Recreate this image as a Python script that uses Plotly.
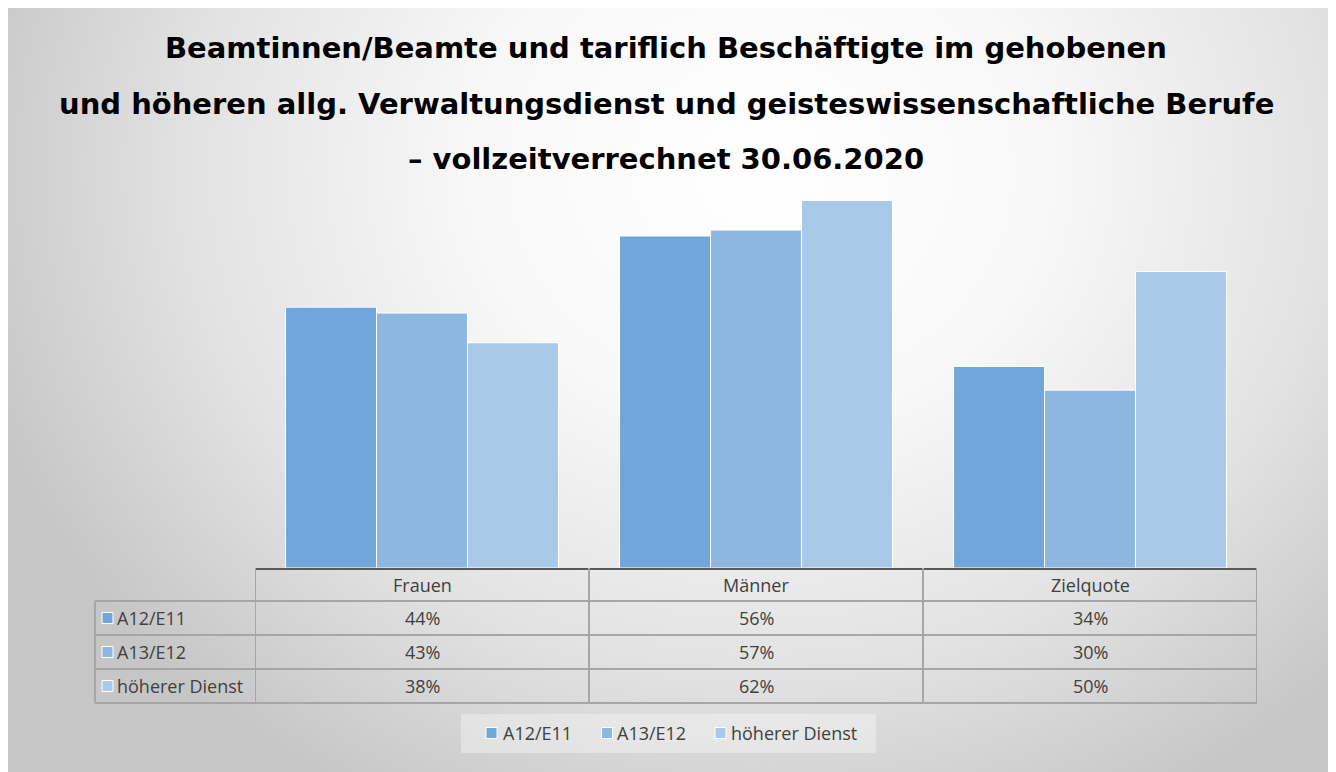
import plotly.graph_objects as go

# the page body has an 8px margin, so the figure is drawn 8px smaller
OFF = 8
W, H = 1336 - OFF, 772 - OFF

categories = ["Frauen", "Männer", "Zielquote"]
series_names = ["A12/E11", "A13/E12", "höherer Dienst"]
a12_e11 = [0.44, 0.56, 0.34]
a13_e12 = [0.43, 0.57, 0.30]
hoeherer_dienst = [0.38, 0.62, 0.50]
series_values = [a12_e11, a13_e12, hoeherer_dienst]
colors = ["#70a6d9", "#8cb7e0", "#a9c9e8"]

title_lines = [
    "Beamtinnen/Beamte und tariflich Beschäftigte im gehobenen",
    "und höheren allg. Verwaltungsdienst und geisteswissenschaftliche Berufe",
    "– vollzeitverrechnet 30.06.2020",
]

# layout in screen pixels (background axis maps 1:1 to screen pixels)
plot_left, plot_right = 255, 1257
plot_top, baseline = 153, 568
row_lines = [568, 601, 635, 669, 703]
label_left = 95
text_color = "#404040"
grid_color = "#a6a6a6"
font_txt = "Open Sans"


def px(s):
    return (s - OFF) / W


def py(s):
    return 1 - (s - OFF) / H


fig = go.Figure()

# radial gradient background
cx, cy, rx, ry = 760, 170, 820, 720
fig.add_trace(go.Scatter(
    x=[cx - rx, cx + rx, cx + rx, cx - rx, cx - rx],
    y=[cy - ry, cy - ry, cy + ry, cy + ry, cy - ry],
    mode="lines", fill="toself", line=dict(width=0),
    fillgradient=dict(type="radial",
                      colorscale=[[0, "#ffffff"], [0.35, "#f8f8f8"],
                                  [0.7, "#e2e2e2"], [1, "#c6c6c6"]]),
    hoverinfo="skip", showlegend=False, xaxis="x", yaxis="y",
))

# bottom legend box
lx0, lx1, ly0, ly1 = 461, 876, 714, 753
fig.add_trace(go.Scatter(
    x=[lx0, lx1, lx1, lx0, lx0], y=[ly0, ly0, ly1, ly1, ly0],
    mode="lines", fill="toself", fillcolor="rgba(255,255,255,0.35)",
    line=dict(width=0), hoverinfo="skip", showlegend=False, xaxis="x", yaxis="y",
))

for name, vals, col in zip(series_names, series_values, colors):
    fig.add_trace(go.Bar(
        x=categories, y=vals, name=name, showlegend=False,
        marker=dict(color=col, line=dict(color="white", width=1)),
        xaxis="x2", yaxis="y2",
    ))

# legend keys in the data table
row_centers = [(row_lines[i] + row_lines[i + 1]) / 2 for i in range(4)]
fig.add_trace(go.Scatter(
    x=[107.5] * 3, y=row_centers[1:], mode="markers",
    marker=dict(symbol="square", size=11, color=colors,
                line=dict(color="white", width=1)),
    hoverinfo="skip", showlegend=False, xaxis="x", yaxis="y",
))

# bottom legend keys
leg_y = 733
leg_sym_x = [491.5, 607, 720.5]
leg_txt_x = [503, 617, 731]
fig.add_trace(go.Scatter(
    x=leg_sym_x, y=[leg_y] * 3, mode="markers",
    marker=dict(symbol="square", size=11, color=colors,
                line=dict(color="white", width=1)),
    hoverinfo="skip", showlegend=False, xaxis="x", yaxis="y",
))

annotations = []
title_base = [57, 113, 168]
for line, b in zip(title_lines, title_base):
    annotations.append(dict(
        text=line, x=666, y=b - 9.5, xref="x", yref="y", showarrow=False,
        xanchor="center", yanchor="middle",
        font=dict(family="DejaVu Sans", size=29, color="#000000", weight=700),
    ))

for cat in categories:
    annotations.append(dict(
        text=cat, x=cat, y=row_centers[0], xref="x2", yref="y",
        showarrow=False, font=dict(family=font_txt, size=18, color=text_color),
    ))

for i, (name, vals) in enumerate(zip(series_names, series_values)):
    yc = row_centers[i + 1]
    annotations.append(dict(
        text=name, x=115, y=yc, xref="x", yref="y", xanchor="left",
        showarrow=False, font=dict(family=font_txt, size=18, color=text_color),
    ))
    for cat, v in zip(categories, vals):
        annotations.append(dict(
            text=f"{v:.0%}", x=cat, y=yc, xref="x2", yref="y",
            showarrow=False, font=dict(family=font_txt, size=18, color=text_color),
        ))

for name, tx in zip(series_names, leg_txt_x):
    annotations.append(dict(
        text=name, x=tx - 2, y=leg_y, xref="x", yref="y", xanchor="left",
        showarrow=False, font=dict(family=font_txt, size=18, color=text_color),
    ))

shapes = []
# table grid
for yl in row_lines[1:]:
    shapes.append(dict(type="line", xref="x", yref="y", x0=label_left, x1=plot_right,
                       y0=yl, y1=yl, line=dict(color=grid_color, width=2)))
shapes.append(dict(type="line", xref="x", yref="y", x0=label_left, x1=label_left,
                   y0=row_lines[1], y1=row_lines[-1], line=dict(color=grid_color, width=2)))
for xb in [-0.5, 0.5, 1.5, 2.5]:
    shapes.append(dict(type="line", xref="x2", yref="y", x0=xb, x1=xb,
                       y0=row_lines[0], y1=row_lines[-1], line=dict(color=grid_color, width=2)))

fig.update_layout(
    width=W, height=H,
    margin=dict(l=0, r=0, t=0, b=0),
    paper_bgcolor="white", plot_bgcolor="rgba(0,0,0,0)",
    barmode="group", bargap=0.183, bargroupgap=0,
    showlegend=False,
    xaxis=dict(domain=[0, 1], range=[OFF, 1336], visible=False, fixedrange=True),
    yaxis=dict(domain=[0, 1], range=[772, OFF], visible=False, fixedrange=True),
    xaxis2=dict(domain=[px(plot_left), px(plot_right)], anchor="y2",
                range=[-0.5, 2.5], showticklabels=False, ticks="", showgrid=False,
                showline=True, linecolor="#595959", linewidth=2, fixedrange=True),
    yaxis2=dict(domain=[py(baseline), py(plot_top)], anchor="x2", range=[0, 0.7],
                visible=False, fixedrange=True),
    annotations=annotations,
    shapes=shapes,
)

fig.write_html("out.html")
